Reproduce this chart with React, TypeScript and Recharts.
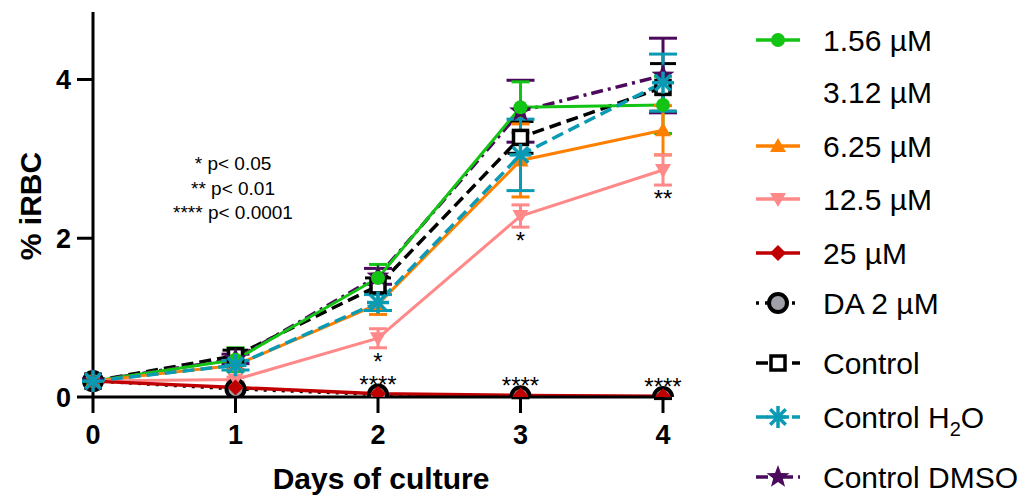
import React from 'react';
import { LineChart, Line, XAxis, YAxis, ErrorBar, Customized, LabelList } from 'recharts';

const FONT = 'Arial, "Liberation Sans", Helvetica, sans-serif';

// ---- data ----
const days = [0, 1, 2, 3, 4];
const xTicks = [0, 1, 2, 3, 4];
const yTicks = [0, 2, 4];

const v156 = [0.2, 0.47, 1.5, 3.65, 3.68];
const e156 = [0, 0.15, 0.17, 0.32, 0.36];
const v625 = [0.2, 0.4, 1.17, 2.98, 3.36];
const e625 = [0, 0.05, 0.13, 0.46, 0.31];
const v125 = [0.2, 0.22, 0.74, 2.28, 2.86];
const e125 = [0, 0.03, 0.12, 0.14, 0.19];
const v25 = [0.2, 0.12, 0.04, 0.02, 0.01];
const e25 = [0, 0, 0, 0, 0];
const vDA = [0.2, 0.1, 0.03, 0.01, 0.0];
const eDA = [0, 0.02, 0.02, 0.02, 0.02];
const vCtrl = [0.2, 0.52, 1.4, 3.27, 3.9];
const eCtrl = [0, 0.07, 0.1, 0.2, 0.3];
const vH2O = [0.2, 0.4, 1.19, 3.05, 3.96];
const eH2O = [0, 0.06, 0.1, 0.45, 0.36];
const vDMSO = [0.2, 0.48, 1.52, 3.6, 4.05];
const eDMSO = [0, 0.06, 0.1, 0.39, 0.47];

const pinkSig = ['', '', '*', '*', '**'];
const redSig = ['', '', '****', '****', '****'];
const noteLines = ['* p< 0.05', '** p< 0.01', '**** p< 0.0001'];

const legendNames = ['1.56 µM', '3.12 µM', '6.25 µM', '12.5 µM', '25 µM', 'DA 2 µM', 'Control', 'Control H2O', 'Control DMSO'];

// ---- styles ----
const GREEN = '#14C414';
const ORANGE = '#FF8000';
const PINK = '#FF8888';
const RED = '#C00000';
const CYAN = '#0A9AB3';
const PURPLE = '#4B0A5C';
const BLACK = '#000000';

const data = days.map((d, i) => ({
  day: d,
  v156: v156[i], e156: e156[i],
  v625: v625[i], e625: e625[i],
  v125: v125[i], e125: e125[i],
  v25: v25[i], e25: e25[i],
  vDA: vDA[i], eDA: eDA[i],
  vCtrl: vCtrl[i], eCtrl: eCtrl[i],
  vH2O: vH2O[i], eH2O: eH2O[i],
  vDMSO: vDMSO[i], eDMSO: eDMSO[i],
  pinkLow: v125[i] - e125[i],
  pinkSig: pinkSig[i],
  redSig: redSig[i],
}));

type Shape = 'circle' | 'triUp' | 'triDown' | 'diamond' | 'bigCircle' | 'square' | 'asterisk' | 'star' | 'none';

function Marker({ shape, cx, cy, color }: { shape: Shape; cx: number; cy: number; color: string }) {
  if (cx == null || cy == null || isNaN(cx) || isNaN(cy)) return null;
  switch (shape) {
    case 'circle':
      return <circle cx={cx} cy={cy} r={7} fill={color} />;
    case 'triUp':
      return <polygon points={`${cx},${cy - 8} ${cx + 8},${cy + 6} ${cx - 8},${cy + 6}`} fill={color} />;
    case 'triDown':
      return <polygon points={`${cx - 8},${cy - 6} ${cx + 8},${cy - 6} ${cx},${cy + 8}`} fill={color} />;
    case 'diamond':
      return <polygon points={`${cx},${cy - 8} ${cx + 8},${cy} ${cx},${cy + 8} ${cx - 8},${cy}`} fill={color} />;
    case 'bigCircle':
      return <circle cx={cx} cy={cy} r={9} fill="#A0A0A8" stroke={BLACK} strokeWidth={4} />;
    case 'square':
      return <rect x={cx - 7} y={cy - 7} width={14} height={14} fill="#fff" stroke={BLACK} strokeWidth={3.5} />;
    case 'asterisk': {
      const r = 11;
      const d = r * 0.7071;
      return (
        <g stroke={color} strokeWidth={3.5}>
          <line x1={cx - r} y1={cy} x2={cx + r} y2={cy} />
          <line x1={cx} y1={cy - r} x2={cx} y2={cy + r} />
          <line x1={cx - d} y1={cy - d} x2={cx + d} y2={cy + d} />
          <line x1={cx - d} y1={cy + d} x2={cx + d} y2={cy - d} />
        </g>
      );
    }
    case 'star': {
      const pts: string[] = [];
      for (let k = 0; k < 10; k++) {
        const rr = k % 2 === 0 ? 12 : 5;
        const a = -Math.PI / 2 + (k * Math.PI) / 5;
        pts.push(`${cx + rr * Math.cos(a)},${cy + rr * Math.sin(a)}`);
      }
      return <polygon points={pts.join(' ')} fill={color} />;
    }
    default:
      return null;
  }
}

const dotFn = (shape: Shape, color: string, pre: string) => (p: any) => (
  <Marker key={`${pre}-${p.index}`} shape={shape} cx={p.cx} cy={p.cy} color={color} />
);

const legendItems: { name: string; shape: Shape; color: string; dash?: string; y: number }[] = [
  { name: legendNames[0], shape: 'circle', color: GREEN, y: 40 },
  { name: legendNames[1], shape: 'none', color: 'none', y: 92 },
  { name: legendNames[2], shape: 'triUp', color: ORANGE, y: 146 },
  { name: legendNames[3], shape: 'triDown', color: PINK, y: 199 },
  { name: legendNames[4], shape: 'diamond', color: RED, y: 253 },
  { name: legendNames[5], shape: 'bigCircle', color: BLACK, dash: '3 6', y: 303 },
  { name: legendNames[6], shape: 'square', color: BLACK, dash: '12 6', y: 363 },
  { name: legendNames[7], shape: 'asterisk', color: CYAN, dash: '12 6', y: 417 },
  { name: legendNames[8], shape: 'star', color: PURPLE, dash: '12 5 3 5', y: 477 },
];

function Overlay() {
  return (
    <g fontFamily={FONT}>
      {/* y axis title */}
      <text x={30} y={206} transform="rotate(-90 30 206)" textAnchor="middle" dominantBaseline="central"
        fontSize={30} fontWeight="bold" fill={BLACK}>% iRBC</text>
      {/* x axis title */}
      <text x={381} y={489} textAnchor="middle" fontSize={30} fontWeight="bold" fill={BLACK}>Days of culture</text>
      {/* significance note */}
      {noteLines.map((t, i) => (
        <text key={t} x={233} y={170 + i * 24.5} textAnchor="middle" fontSize={19} fill={BLACK}>{t}</text>
      ))}
      {/* legend */}
      {legendItems.map((it) => (
        <g key={it.name}>
          {it.shape !== 'none' && (
            <>
              <line x1={756} y1={it.y} x2={800} y2={it.y} stroke={it.color} strokeWidth={3.5}
                strokeDasharray={it.dash} />
              <Marker shape={it.shape} cx={778} cy={it.y} color={it.color} />
            </>
          )}
          {it.name === 'Control H2O' ? (
            <text x={823} y={it.y + 11} fontSize={30} fill={BLACK}>
              Control H<tspan fontSize={20} dy={8}>2</tspan><tspan dy={-8}>O</tspan>
            </text>
          ) : (
            <text x={823} y={it.y + 11} fontSize={30} fill={BLACK}>{it.name}</text>
          )}
        </g>
      ))}
    </g>
  );
}

const SigBelow = (p: any) => {
  if (!p.value) return null;
  return (
    <text key={`pb-${p.index}`} x={p.x} y={p.y + 22} textAnchor="middle" fontSize={24} fontFamily={FONT} fill={BLACK}>{p.value}</text>
  );
};
const SigAbove = (p: any) => {
  if (!p.value) return null;
  return (
    <text key={`ra-${p.index}`} x={p.x} y={p.y - 1} textAnchor="middle" fontSize={24} fontFamily={FONT} fill={BLACK}>{p.value}</text>
  );
};

export default function App() {
  return (
    <div style={{ position: 'absolute', left: 0, top: 0, width: 1025, height: 502, background: '#fff' }}>
      <LineChart width={1025} height={502} data={data} margin={{ top: 12, right: 362, bottom: 45, left: 0 }}>
        <XAxis dataKey="day" type="number" domain={[0, 4]} ticks={xTicks} tickSize={16} tickMargin={12}
          axisLine={{ stroke: BLACK, strokeWidth: 3 }} tickLine={{ stroke: BLACK, strokeWidth: 3 }}
          tick={{ fill: BLACK, fontSize: 27, fontWeight: 'bold', fontFamily: FONT }} height={60} />
        <YAxis type="number" domain={[0, 4.85]} ticks={yTicks} tickSize={16} tickMargin={6} width={93}
          axisLine={{ stroke: BLACK, strokeWidth: 3 }} tickLine={{ stroke: BLACK, strokeWidth: 3 }}
          tick={{ fill: BLACK, fontSize: 27, fontWeight: 'bold', fontFamily: FONT }} allowDataOverflow />

        <Line dataKey="vDA" stroke={BLACK} strokeWidth={3} strokeDasharray="3 6" isAnimationActive={false}
          dot={dotFn('bigCircle', BLACK, 'da')} activeDot={false}>
          <ErrorBar dataKey="eDA" width={9} stroke={BLACK} strokeWidth={3} direction="y" />
        </Line>
        <Line dataKey="vCtrl" stroke={BLACK} strokeWidth={3.5} strokeDasharray="12 6" isAnimationActive={false}
          dot={dotFn('square', BLACK, 'ct')} activeDot={false}>
          <ErrorBar dataKey="eCtrl" width={13} stroke={BLACK} strokeWidth={3} direction="y" />
        </Line>
        <Line dataKey="vDMSO" stroke={PURPLE} strokeWidth={3.5} strokeDasharray="12 5 3 5" isAnimationActive={false}
          dot={dotFn('star', PURPLE, 'dm')} activeDot={false}>
          <ErrorBar dataKey="eDMSO" width={14} stroke={PURPLE} strokeWidth={3} direction="y" />
        </Line>
        <Line dataKey="v156" stroke={GREEN} strokeWidth={3} isAnimationActive={false}
          dot={dotFn('circle', GREEN, 'g')} activeDot={false}>
          <ErrorBar dataKey="e156" width={9} stroke={GREEN} strokeWidth={3} direction="y" />
        </Line>
        <Line dataKey="v625" stroke={ORANGE} strokeWidth={3} isAnimationActive={false}
          dot={dotFn('triUp', ORANGE, 'o')} activeDot={false}>
          <ErrorBar dataKey="e625" width={9} stroke={ORANGE} strokeWidth={3} direction="y" />
        </Line>
        <Line dataKey="v125" stroke={PINK} strokeWidth={3} isAnimationActive={false}
          dot={dotFn('triDown', PINK, 'p')} activeDot={false}>
          <ErrorBar dataKey="e125" width={9} stroke={PINK} strokeWidth={3} direction="y" />
        </Line>
        <Line dataKey="pinkLow" stroke="none" dot={false} activeDot={false} isAnimationActive={false}>
          <LabelList dataKey="pinkSig" content={SigBelow} />
        </Line>
        <Line dataKey="v25" stroke={RED} strokeWidth={3.5} isAnimationActive={false}
          dot={dotFn('diamond', RED, 'r')} activeDot={false}>
          <LabelList dataKey="redSig" content={SigAbove} />
        </Line>
        <Line dataKey="vH2O" stroke={CYAN} strokeWidth={3.5} strokeDasharray="12 6" isAnimationActive={false}
          dot={dotFn('asterisk', CYAN, 'h')} activeDot={false}>
          <ErrorBar dataKey="eH2O" width={14} stroke={CYAN} strokeWidth={3} direction="y" />
        </Line>
        <Customized component={<Overlay />} />
      </LineChart>
    </div>
  );
}
